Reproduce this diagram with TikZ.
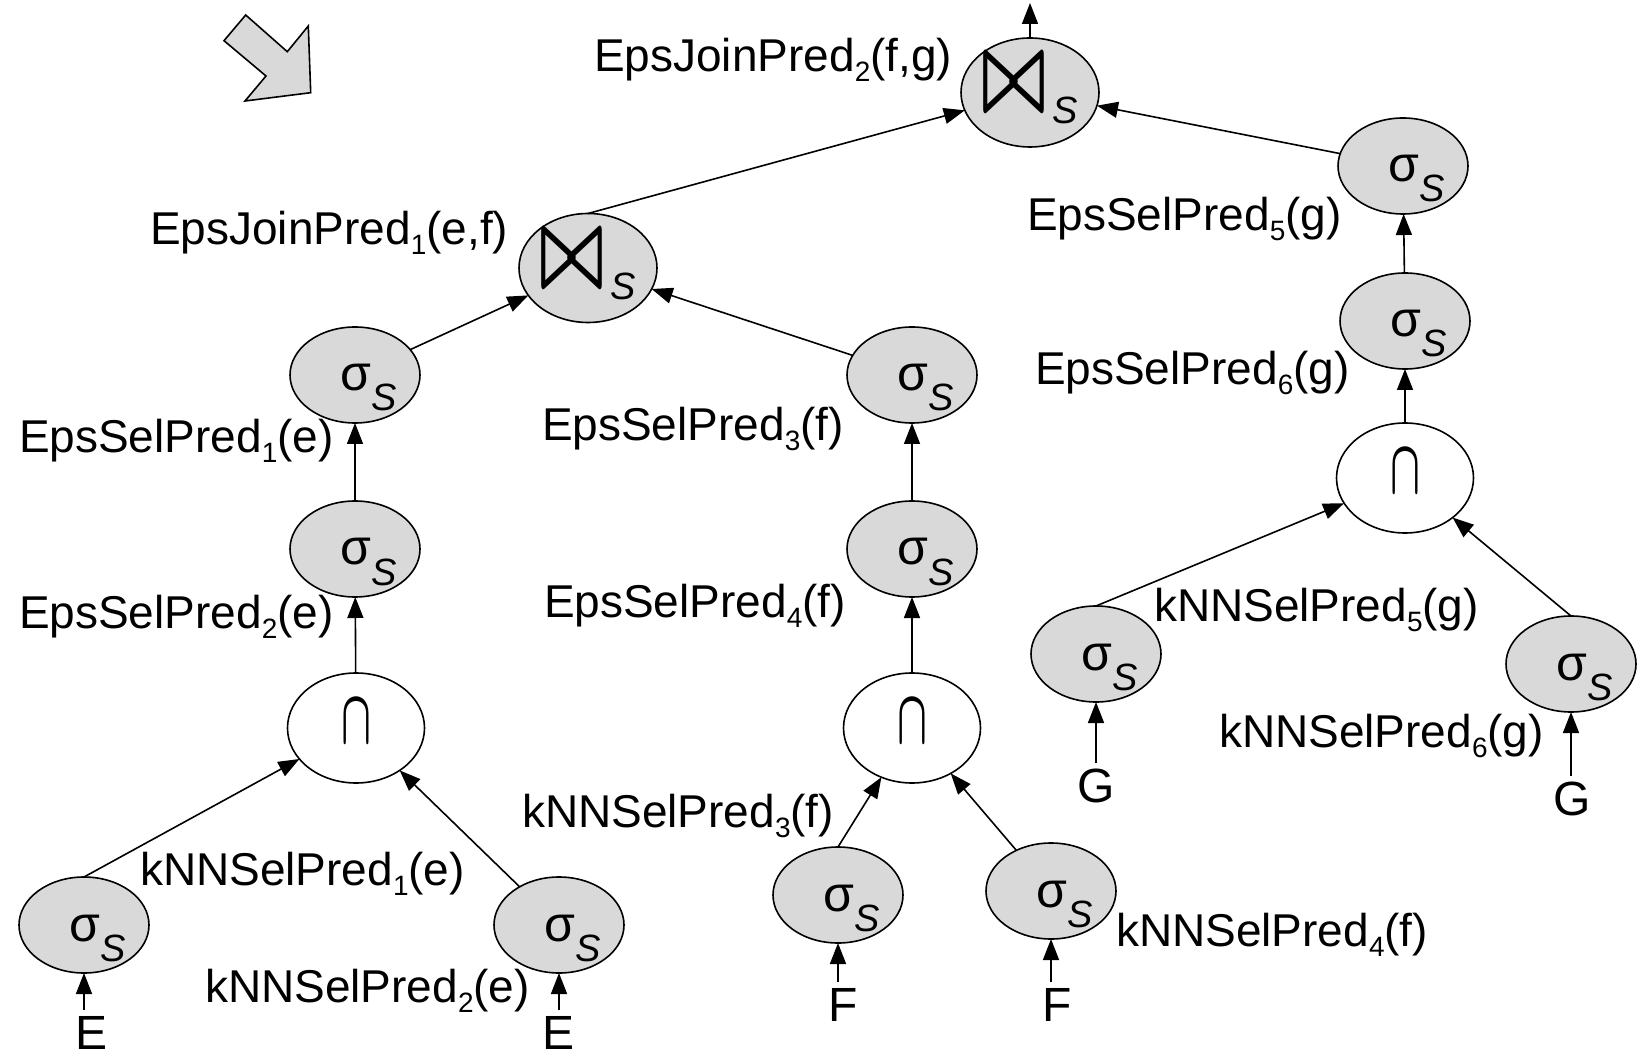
\documentclass[tikz,border=0pt]{standalone}
\usepackage{fontspec}
\setmainfont{Liberation Sans}
\usetikzlibrary{arrows.meta,shapes.geometric}
\definecolor{opgray}{HTML}{D9D9D9}
\newcommand\sigS{\hspace*{14pt}{\fontsize{25}{25}\selectfont σ}\raisebox{-10pt}{\fontsize{19}{19}\selectfont\itshape S}}
\newcommand\joinS{\resizebox{32.5pt}{26pt}{\boldmath$\bowtie$}\hspace{3pt}\raisebox{-7pt}{\fontsize{19}{19}\selectfont\itshape S}}
\newcommand\capS{\resizebox{15pt}{21.5pt}{\boldmath$\cap$}}
\newcommand\sbs[1]{\raisebox{-0.2em}{\fontsize{14}{14}\selectfont #1}}
\begin{document}
\begin{tikzpicture}[x=0.5pt,y=-0.5pt,line width=0.8pt,
  every node/.style={inner sep=0pt,outer sep=0pt},
  lbl/.style={font=\fontsize{23}{27}\selectfont,anchor=west},
  leaf/.style={font=\fontsize{24}{28}\selectfont,outer sep=3pt},
  selop/.style={ellipse,draw,fill=opgray,minimum width=65pt,minimum height=48pt,text height=16pt,text depth=0pt},
  joinop/.style={ellipse,draw,fill=opgray,minimum width=69pt,minimum height=54.5pt,text height=17.5pt,text depth=0pt},
  interop/.style={ellipse,draw,fill=white,minimum width=68.5pt,minimum height=55pt,text height=21.5pt,text depth=6pt},
  edge/.style={-{Triangle[length=10.5pt,width=8pt]}}
]
\useasboundingbox (0,0) rectangle (1648,1058);
% block arrow
\draw[fill=opgray] (245.7,15) -- (287.3,51.7) -- (308.3,26) -- (310.7,92.7) -- (245,101) -- (266,76) -- (224,40.7) -- cycle;
% operators
\node[joinop] (J2) at (1030,92.5) {\joinS};
\node[joinop] (J1) at (588,268) {\joinS};
\node[selop] (SL1) at (355,375) {\sigS};
\node[selop] (SL2) at (355,549) {\sigS};
\node[interop] (IL) at (356,728) {\capS};
\node[selop] (SLL) at (84,925) {\sigS};
\node[selop] (SLR) at (559,925) {\sigS};
\node[selop] (SM1) at (912,375) {\sigS};
\node[selop] (SM2) at (912,549) {\sigS};
\node[interop] (IM) at (912,728) {\capS};
\node[selop] (SMl) at (838,895) {\sigS};
\node[selop] (SMr) at (1051,891) {\sigS};
\node[selop] (SR1) at (1403,166) {\sigS};
\node[selop] (SR2) at (1405,321) {\sigS};
\node[interop] (IR) at (1405,478) {\capS};
\node[selop] (SRl) at (1096,654) {\sigS};
\node[selop] (SRr) at (1571,664) {\sigS};
% leaves
\node[leaf] (E1) at (92,1033) {E};
\node[leaf] (E2) at (559,1033) {E};
\node[leaf] (F1) at (843,1005) {F};
\node[leaf] (F2) at (1057,1005) {F};
\node[leaf] (G1) at (1096,786) {G};
\node[leaf] (G2) at (1572,799) {G};
\coordinate (out) at (1030,3);
% labels
\node[lbl] (l1) at (594,60) {EpsJoinPred\sbs{2}(f,g)};
\node[lbl] (l2) at (150,233) {EpsJoinPred\sbs{1}(e,f)};
\node[lbl] (l3) at (19,441) {EpsSelPred\sbs{1}(e)};
\node[lbl] (l4) at (19,617) {EpsSelPred\sbs{2}(e)};
\node[lbl] (l5) at (140,874) {kNNSelPred\sbs{1}(e)};
\node[lbl] (l6) at (205,991) {kNNSelPred\sbs{2}(e)};
\node[lbl] (l7) at (542,429) {EpsSelPred\sbs{3}(f)};
\node[lbl] (l8) at (544,606) {EpsSelPred\sbs{4}(f)};
\node[lbl] (l9) at (522,816) {kNNSelPred\sbs{3}(f)};
\node[lbl] (l10) at (1116,935) {kNNSelPred\sbs{4}(f)};
\node[lbl] (l11) at (1027,219) {EpsSelPred\sbs{5}(g)};
\node[lbl] (l12) at (1035,373) {EpsSelPred\sbs{6}(g)};
\node[lbl] (l13) at (1154,610) {kNNSelPred\sbs{5}(g)};
\node[lbl] (l14) at (1219,736) {kNNSelPred\sbs{6}(g)};
% edges
\draw[edge] (J2.north) -- (out);
\draw[edge] (J1.north) -- (J2);
\draw[edge] (SR1) -- (J2);
\draw[edge] (SL1) -- (J1);
\draw[edge] (SM1) -- (J1);
\draw[edge] (SL2) -- (SL1);
\draw[edge] (IL) -- (SL2);
\draw[edge] (SLL.north) -- (IL);
\draw[edge] (SLR) -- (IL);
\draw[edge] (SM2) -- (SM1);
\draw[edge] (IM) -- (SM2);
\draw[edge] (SMl.north) -- (IM);
\draw[edge] (SMr) -- (IM);
\draw[edge] (SR2) -- (SR1);
\draw[edge] (IR) -- (SR2);
\draw[edge] (SRl.north) -- (IR);
\draw[edge] (SRr.north) -- (IR);
\draw[edge] (E1.north -| SLL.south) -- (SLL.south);
\draw[edge] (E2.north -| SLR.south) -- (SLR.south);
\draw[edge] (F1.north -| SMl.south) -- (SMl.south);
\draw[edge] (F2.north -| SMr.south) -- (SMr.south);
\draw[edge] (G1.north -| SRl.south) -- (SRl.south);
\draw[edge] (G2.north -| SRr.south) -- (SRr.south);
\end{tikzpicture}
\end{document}
